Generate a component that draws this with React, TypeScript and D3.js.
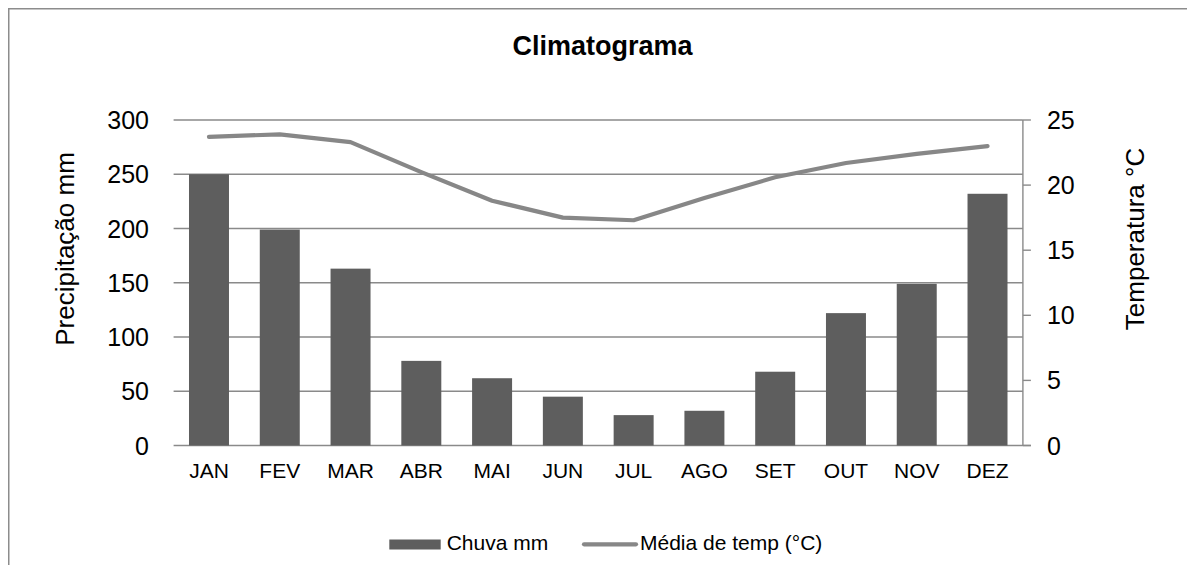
import React from "react";
import * as d3 from "d3";

// Monthly climate data
const months = ["JAN", "FEV", "MAR", "ABR", "MAI", "JUN", "JUL", "AGO", "SET", "OUT", "NOV", "DEZ"];
const rainfall = [250, 199, 163, 78, 62, 45, 28, 32, 68, 122, 149, 232];
const meanTemp = [23.7, 23.9, 23.3, 21.0, 18.8, 17.5, 17.3, 19.0, 20.6, 21.7, 22.4, 23.0];
const rainTicks = [0, 50, 100, 150, 200, 250, 300];
const tempTicks = [0, 5, 10, 15, 20, 25];

const W = 1187;
const H = 565;
const FONT = "'Liberation Sans', Arial, sans-serif";

const plot = { left: 165.6, right: 1014.9, top: 112, bottom: 437.5 };

export default function App() {
  const x = d3.scaleBand<string>().domain(months).range([plot.left, plot.right]).padding(0);
  const barW = x.bandwidth() * 0.565;
  const yRain = d3.scaleLinear().domain([0, 300]).range([plot.bottom, plot.top]);
  const yTemp = d3.scaleLinear().domain([0, 25]).range([plot.bottom, plot.top]);

  const line = d3
    .line<number>()
    .x((_, i) => (x(months[i]) as number) + x.bandwidth() / 2)
    .y((d) => yTemp(d));

  const gridColor = "#8a8a8a";

  return (
    <svg
      width={W}
      height={H}
      style={{ display: "block", marginBottom: -8, fontFamily: FONT }}
    >
      <rect x={0} y={0} width={W} height={H} fill="#ffffff" />
      {/* chart frame */}
      <rect x={0.75} y={0.75} width={W + 20} height={H + 20} fill="none" stroke="#8c8c8c" strokeWidth={1.5} />

      <text x={594.5} y={47} textAnchor="middle" fontSize={27} fontWeight="bold" fill="#000">
        Climatograma
      </text>

      {/* gridlines */}
      {rainTicks.map((t) => (
        <line
          key={"g" + t}
          x1={plot.left}
          x2={t === 0 ? plot.right + 8 : plot.right}
          y1={yRain(t)}
          y2={yRain(t)}
          stroke={gridColor}
          strokeWidth={1.4}
        />
      ))}

      {/* bars */}
      {rainfall.map((v, i) => {
        const cx = (x(months[i]) as number) + x.bandwidth() / 2;
        return (
          <rect
            key={"b" + i}
            x={cx - barW / 2}
            y={yRain(v)}
            width={barW}
            height={yRain(0) - yRain(v)}
            fill="#5e5e5e"
          />
        );
      })}

      {/* secondary axis */}
      <line x1={plot.right} x2={plot.right} y1={plot.top} y2={plot.bottom} stroke={gridColor} strokeWidth={1.4} />
      {tempTicks.map((t) => (
        <g key={"rt" + t}>
          <line x1={plot.right} x2={plot.right + 8} y1={yTemp(t)} y2={yTemp(t)} stroke={gridColor} strokeWidth={1.4} />
          <text x={plot.right + 24} y={yTemp(t) + 9} fontSize={25} fill="#000">
            {t}
          </text>
        </g>
      ))}

      {/* temperature line */}
      <path
        d={line(meanTemp) as string}
        fill="none"
        stroke="#878787"
        strokeWidth={4.2}
        strokeLinecap="round"
        strokeLinejoin="round"
      />

      {/* primary axis labels */}
      {rainTicks.map((t) => (
        <text key={"lt" + t} x={141} y={yRain(t) + 9} textAnchor="end" fontSize={25} fill="#000">
          {t}
        </text>
      ))}

      {months.map((m) => (
        <text
          key={m}
          x={(x(m) as number) + x.bandwidth() / 2}
          y={470}
          textAnchor="middle"
          fontSize={21}
          fill="#000"
        >
          {m}
        </text>
      ))}

      <text
        transform={`translate(66,241) rotate(-90)`}
        textAnchor="middle"
        fontSize={26}
        fill="#000"
      >
        Precipitação mm
      </text>
      <text
        transform={`translate(1136,231) rotate(-90)`}
        textAnchor="middle"
        fontSize={26}
        fill="#000"
      >
        Temperatura °C
      </text>

      {/* legend */}
      <rect x={381.3} y={531.5} width={51.4} height={10} fill="#5e5e5e" />
      <text x={438.7} y={542} fontSize={21} fill="#000">
        Chuva mm
      </text>
      <line x1={576} x2={628} y1={536.3} y2={536.3} stroke="#878787" strokeWidth={4.2} strokeLinecap="round" />
      <text x={632} y={542} fontSize={21} fill="#000">
        Média de temp (°C)
      </text>
    </svg>
  );
}
